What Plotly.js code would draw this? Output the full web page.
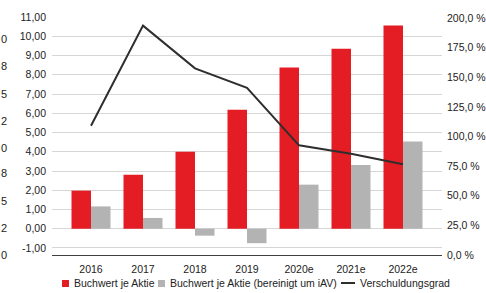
<!DOCTYPE html>
<html>
<head>
<meta charset="utf-8">
<script src="https://cdn.plot.ly/plotly-3.0.1.min.js"></script>
<style>
html,body{margin:0;padding:0;background:#fff;}
#chart{width:486px;height:293px;}
</style>
</head>
<body>
<div id="chart"></div>
<script>
// ---- data ----
var categories = ["2016", "2017", "2018", "2019", "2020e", "2021e", "2022e"];
var buchwert = [1.98, 2.80, 4.00, 6.18, 8.38, 9.35, 10.56];
var buchwertBereinigt = [1.16, 0.56, -0.36, -0.75, 2.29, 3.31, 4.53];
var verschuldungsgrad = [109, 193.5, 157.5, 141, 92.5, 85.5, 76.5];
var leftTickVals = [-1, 0, 1, 2, 3, 4, 5, 6, 7, 8, 9, 10, 11];
var leftTickText = ["-1,00", "0,00", "1,00", "2,00", "3,00", "4,00", "5,00", "6,00", "7,00", "8,00", "9,00", "10,00", "11,00"];
var rightTickVals = [0, 25, 50, 75, 100, 125, 150, 175, 200];
var rightTickText = ["0,0 %", "25,0 %", "50,0 %", "75,0 %", "100,0 %", "125,0 %", "150,0 %", "175,0 %", "200,0 %"];
var seriesNames = ["Buchwert je Aktie", "Buchwert je Aktie (bereinigt um iAV)", "Verschuldungsgrad"];
// stray digits visible at the left edge of the picture
var strayDigits = ["0", "8", "5", "2", "0", "8", "5", "2", "0"];
var strayDigitY = [39, 66, 94, 121, 148, 173, 201, 228, 255];

var RED = "#e31d23", GRAY = "#b3b3b3", LINE = "#2e2e2e";
var FONT = "Liberation Sans, Arial, sans-serif";

// plot area in pixels
var PL = 52, PR = 442, PT = 17, PB = 255;
function px(x) { return (x - PL) / (PR - PL); }
function py(y) { return (PB - y) / (PB - PT); }

var traces = [
  {type: "bar", name: seriesNames[0], x: categories, y: buchwert,
   marker: {color: RED}, showlegend: false, yaxis: "y"},
  {type: "bar", name: seriesNames[1], x: categories, y: buchwertBereinigt,
   marker: {color: GRAY}, showlegend: false, yaxis: "y"},
  {type: "scatter", mode: "lines", name: seriesNames[2], x: categories, y: verschuldungsgrad,
   line: {color: LINE, width: 2}, showlegend: false, yaxis: "y2"}
];

var annotations = [];
for (var i = 0; i < strayDigits.length; i++) {
  annotations.push({xref: "paper", yref: "paper", x: px(0), y: py(strayDigitY[i]),
    xanchor: "left", yanchor: "middle", text: strayDigits[i], showarrow: false,
    borderpad: 0, font: {family: FONT, size: 11, color: "#222"}});
}
var legendItems = [
  {text: seriesNames[0], tx: 73},
  {text: seriesNames[1], tx: 169},
  {text: seriesNames[2], tx: 359}
];
var LY = 283;
legendItems.forEach(function (it) {
  annotations.push({xref: "paper", yref: "paper", x: px(it.tx), y: py(LY),
    xanchor: "left", yanchor: "middle", text: it.text, showarrow: false,
    borderpad: 0, font: {family: FONT, size: 10.5, color: "#222"}});
});

var shapes = [
  {type: "rect", xref: "paper", yref: "paper", x0: px(62), x1: px(69), y0: py(287), y1: py(280),
   fillcolor: RED, line: {width: 0}},
  {type: "rect", xref: "paper", yref: "paper", x0: px(158), x1: px(165), y0: py(287), y1: py(280),
   fillcolor: GRAY, line: {width: 0}},
  {type: "line", xref: "paper", yref: "paper", x0: px(341), x1: px(355), y0: py(LY), y1: py(LY),
   line: {color: LINE, width: 2}}
];

var layout = {
  width: 486, height: 293,
  margin: {l: PL, r: 486 - PR, t: PT, b: 293 - PB, pad: 0},
  paper_bgcolor: "#fff", plot_bgcolor: "#fff",
  font: {family: FONT, size: 10.5, color: "#222"},
  barmode: "group", bargap: 0.25, bargroupgap: 0,
  showlegend: false,
  xaxis: {type: "category", range: [-0.75, 6.75], showgrid: false, zeroline: false,
    showline: true, linecolor: "#404040", linewidth: 1, ticks: "", fixedrange: true,
    tickfont: {family: FONT, size: 10.5, color: "#222"}, ticklabelstandoff: 4},
  yaxis: {range: [-1.364, 11], tickvals: leftTickVals, ticktext: leftTickText,
    showgrid: true, gridcolor: "#d6d6d6", gridwidth: 1, zeroline: false, showline: false,
    ticks: "", ticklabelstandoff: 5, tickfont: {family: FONT, size: 10.5, color: "#222"}},
  yaxis2: {range: [0, 200.8], overlaying: "y", side: "right", tickvals: rightTickVals,
    ticktext: rightTickText, showgrid: false, zeroline: false, showline: false, ticks: "",
    ticklabelstandoff: 4, tickfont: {family: FONT, size: 10.5, color: "#222"}},
  annotations: annotations,
  shapes: shapes
};

Plotly.newPlot("chart", traces, layout, {staticPlot: true, displayModeBar: false});
</script>
</body>
</html>
